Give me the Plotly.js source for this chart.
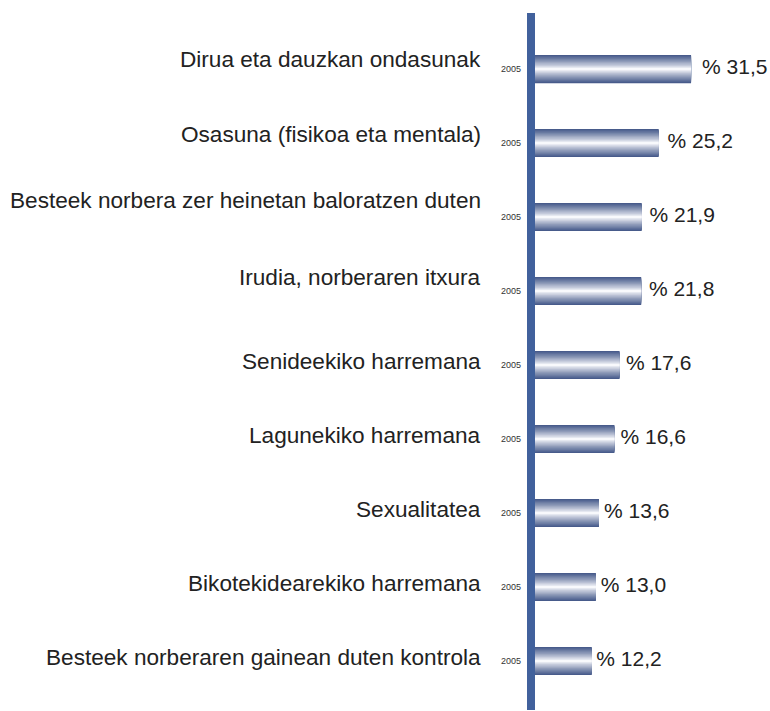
<!DOCTYPE html>
<html>
<head>
<meta charset="utf-8">
<script src="https://cdn.plot.ly/plotly-3.0.1.min.js"></script>
<style>html,body{margin:0;padding:0;background:#fff;}#chart{width:770px;height:711px;}</style>
</head>
<body>
<div id="chart"></div>
<script>
// ---- data ----
const categories = [
  "Dirua eta dauzkan ondasunak",
  "Osasuna (fisikoa eta mentala)",
  "Besteek norbera zer heinetan baloratzen duten",
  "Irudia, norberaren itxura",
  "Senideekiko harremana",
  "Lagunekiko harremana",
  "Sexualitatea",
  "Bikotekidearekiko harremana",
  "Besteek norberaren gainean duten kontrola"
];
const values = [31.5, 25.2, 21.9, 21.8, 17.6, 16.6, 13.6, 13.0, 12.2];
const years = ["2005", "2005", "2005", "2005", "2005", "2005", "2005", "2005", "2005"];

// ---- styling ----
const FONT = "Liberation Sans, Arial, Helvetica, sans-serif";
const EDGE = [70, 90, 138];
const CENTER = [252, 252, 255];
const STEPS = 18;
const BAR_W = 0.38;
const labelNudge = [9.7, 8.9, 16.1, 13.7, 3.6, 4, 3.4, 3.3, 3.7];

const valueText = values.map(v => "% " + v.toFixed(1).replace(".", ","));

const traces = [];
for (let k = 0; k < STEPS; k++) {
  const w = BAR_W * (1 - k / STEPS);
  const s = Math.pow(1 - k / (STEPS - 1), 0.85);
  const c = EDGE.map((e, i) => Math.round(CENTER[i] + (e - CENTER[i]) * s));
  traces.push({
    type: "bar",
    orientation: "h",
    y: categories,
    x: values,
    width: w,
    marker: {color: `rgb(${c[0]},${c[1]},${c[2]})`, line: {width: 0}},
    textposition: "none",
    hoverinfo: "skip",
    showlegend: false
  });
}
// value labels
traces.push({
  type: "scatter",
  mode: "text",
  xaxis: "x2",
  yaxis: "y",
  y: categories,
  x: values,
  text: valueText,
  textposition: "middle right",
  cliponaxis: false,
  textfont: {family: FONT, size: 21, color: "#222222"},
  hoverinfo: "skip",
  showlegend: false
});

const annotations = [];
categories.forEach((cat, i) => {
  annotations.push({
    xref: "paper", yref: "y", x: 0, y: cat,
    xanchor: "right", yanchor: "middle",
    xshift: -52, yshift: labelNudge[i],
    text: cat, showarrow: false,
    font: {family: FONT, size: 22.6, color: "#222222"}
  });
  annotations.push({
    xref: "paper", yref: "y", x: 0, y: cat,
    xanchor: "right", yanchor: "middle",
    xshift: -12, yshift: 0,
    text: years[i], showarrow: false,
    font: {family: FONT, size: 9, color: "#333333"}
  });
});

const layout = {
  width: 770, height: 711,
  margin: {l: 535, r: 0, t: 13, b: 1, pad: 0},
  paper_bgcolor: "#ffffff", plot_bgcolor: "#ffffff",
  barmode: "overlay",
  showlegend: false,
  hovermode: false,
  xaxis: {range: [1.166, 46.84], visible: false, showgrid: false, zeroline: false},
  xaxis2: {overlaying: "x", range: [1.004, 43.89], visible: false, showgrid: false, zeroline: false},
  yaxis: {
    type: "category", range: [8.663, -0.758],
    showline: true, linewidth: 8, linecolor: "#41619c",
    showticklabels: false, showgrid: false, zeroline: false, ticks: ""
  },
  annotations: annotations
};

Plotly.newPlot("chart", traces, layout, {displayModeBar: false, staticPlot: true});
</script>
</body>
</html>
